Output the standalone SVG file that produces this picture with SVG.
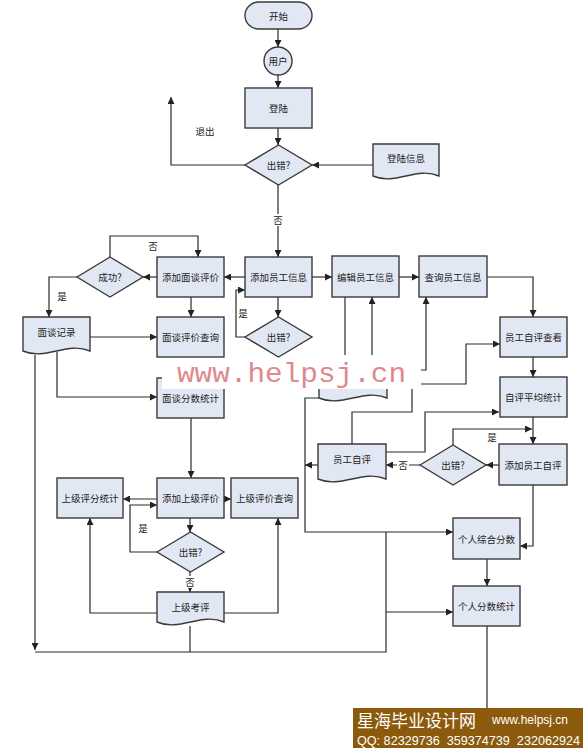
<svg xmlns="http://www.w3.org/2000/svg" width="583" height="748" viewBox="0 0 583 748">
<defs>
<marker id="ar" viewBox="0 0 8 8" refX="8" refY="4" markerWidth="7" markerHeight="7" markerUnits="userSpaceOnUse" orient="auto">
<path d="M0,0 L8,4 L0,8 Z" fill="#222"/>
</marker>
</defs>
<style>
.box{fill:#e1e8f4;stroke:#3a3a3a;stroke-width:1.4}
.t{font-family:"Noto Sans CJK SC","Noto Sans",sans-serif;font-size:9.5px;fill:#222;text-anchor:middle;dominant-baseline:central}
.c{fill:none;stroke:#2a2a2a;stroke-width:1.2}
.a{marker-end:url(#ar)}
.lb{font-family:"Noto Sans CJK SC","Noto Sans",sans-serif;font-size:9.5px;fill:#222;text-anchor:middle;dominant-baseline:central}
</style>
<rect width="583" height="748" fill="#fff"/>
<g id="connectors">
<path class="c a" d="M278,29 V47"/>
<path class="c a" d="M278,75 V88"/>
<path class="c a" d="M278,128 V145"/>
<path class="c a" d="M373,165 H312"/>
<path class="c a" d="M245,165 H171 V97"/>
<path class="c a" d="M278,185 V257"/>
<path class="c a" d="M245,277 H224"/>
<path class="c a" d="M157,277 H143"/>
<path class="c a" d="M110,257 V236 H198 V257"/>
<path class="c a" d="M77,277 H49 V317"/>
<path class="c a" d="M191,297 V317"/>
<path class="c a" d="M90,337 H157"/>
<path class="c a" d="M57,352 V397 H157"/>
<path class="c a" d="M35,355 V650"/>
<path class="c a" d="M278,297 V317"/>
<path class="c a" d="M245,337 H236 V290 H245"/>
<path class="c a" d="M312,277 H332"/>
<path class="c a" d="M399,277 H419"/>
<path class="c a" d="M487,277 H533 V317"/>
<path class="c a" d="M533,357 V377"/>
<path class="c" d="M345,297 V380"/>
<path class="c a" d="M372,380 V297"/>
<path class="c a" d="M387,370 H426 V297"/>
<path class="c a" d="M387,384 H466 V344 H500"/>
<path class="c a" d="M319,398 H305 V532 H453"/>
<path class="c" d="M412,385 V412 H352 V445"/>
<path class="c a" d="M386,452 H425 V412 H499"/>
<path class="c a" d="M533,417 V444"/>
<path class="c a" d="M499,465 H486"/>
<path class="c a" d="M453,445 V429 H532"/>
<path class="c a" d="M420,465 H386"/>
<path class="c a" d="M318,465 H305"/>
<path class="c a" d="M533,485 V546 H520"/>
<path class="c a" d="M487,559 V586"/>
<path class="c" d="M487,626 V748"/>
<path class="c" d="M386,532 V652 H35"/>
<path class="c a" d="M386,612 H453"/>
<path class="c a" d="M191,418 V478"/>
<path class="c a" d="M157,499 H123"/>
<path class="c a" d="M224,499 H231"/>
<path class="c a" d="M190,518 V532"/>
<path class="c a" d="M157,552 H130 V505 H157"/>
<path class="c a" d="M190,572 V592"/>
<path class="c a" d="M157,613 H90 V518"/>
<path class="c a" d="M224,613 H278 V518"/>
<path class="c" d="M190,626 V652"/>
<rect x="272" y="214" width="12" height="12" fill="#fff"/>
<text class="lb" x="278" y="220">否</text>
<text class="lb" x="205" y="131">退出</text>
<text class="lb" x="153" y="246">否</text>
<text class="lb" x="62" y="296">是</text>
<text class="lb" x="243" y="313">是</text>
<text class="lb" x="492" y="437">是</text>
<rect x="397" y="459" width="12" height="12" fill="#fff"/>
<text class="lb" x="403" y="465">否</text>
<text class="lb" x="143" y="528">是</text>
<rect x="184" y="576" width="12" height="12" fill="#fff"/>
<text class="lb" x="190" y="582">否</text>
</g>
<g id="start"><rect class="box" x="245" y="2" width="67" height="27" rx="13.5"/><text class="t" x="278.5" y="15.5">开始</text></g>
<g id="user"><circle class="box" cx="278" cy="61" r="14"/><text class="t" x="278" y="61">用户</text></g>
<g id="login"><rect class="box" x="245" y="88" width="67" height="40"/><text class="t" x="278.5" y="108">登陆</text></g>
<g id="err1"><path class="box" d="M245,165 L278.5,145 L312,165 L278.5,185 Z"/><text class="t" x="278.5" y="165">出错?</text></g>
<g id="logininfo"><path class="box" transform="translate(373,144)" d="M0,0 H66 V32 C43,22 23,42 0,32 Z"/><text class="t" x="406" y="158">登陆信息</text></g>
<g id="addemp"><rect class="box" x="245" y="257" width="67" height="40"/><text class="t" x="278.5" y="277">添加员工信息</text></g>
<g id="addint"><rect class="box" x="157" y="257" width="67" height="40"/><text class="t" x="190.5" y="277">添加面谈评价</text></g>
<g id="succ"><path class="box" d="M77,277 L110,257 L143,277 L110,297 Z"/><text class="t" x="110" y="277">成功?</text></g>
<g id="intrec"><path class="box" transform="translate(23,317)" d="M0,0 H67 V34 C44,24 23,44 0,34 Z"/><text class="t" x="56.5" y="332">面谈记录</text></g>
<g id="intq"><rect class="box" x="157" y="317" width="67" height="40"/><text class="t" x="190.5" y="337">面谈评价查询</text></g>
<g id="err2"><path class="box" d="M245,337 L278.5,317 L312,337 L278.5,357 Z"/><text class="t" x="278.5" y="337">出错?</text></g>
<g id="editemp"><rect class="box" x="332" y="256" width="67" height="41"/><text class="t" x="365.5" y="276.5">编辑员工信息</text></g>
<g id="qemp"><rect class="box" x="419" y="256" width="68" height="41"/><text class="t" x="453" y="276.5">查询员工信息</text></g>
<g id="selfview"><rect class="box" x="500" y="317" width="67" height="40"/><text class="t" x="533.5" y="337">员工自评查看</text></g>
<g id="selfavg"><rect class="box" x="500" y="377" width="67" height="40"/><text class="t" x="533.5" y="397">自评平均统计</text></g>
<g id="empdoc"><path class="box" transform="translate(319,362)" d="M0,0 H68 V36 C45,26 23,46 0,36 Z"/></g>
<g id="intstat"><rect class="box" x="157" y="378" width="67" height="40"/><text class="t" x="190.5" y="398">面谈分数统计</text></g>
<g id="mask"><path d="M162,359 H300 V355 H421 V389 H162 Z" fill="#fff"/>
<text x="177" y="382" font-family="Liberation Mono, monospace" font-size="27" fill="#e0898c" textLength="229" lengthAdjust="spacingAndGlyphs">www.helpsj.cn</text></g>
<g id="selfeval"><path class="box" transform="translate(318,444)" d="M0,0 H68 V35 C45,25 23,45 0,35 Z"/><text class="t" x="352" y="459">员工自评</text></g>
<g id="err3"><path class="box" d="M420,465 L453,445 L486,465 L453,485 Z"/><text class="t" x="453" y="465">出错?</text></g>
<g id="addself"><rect class="box" x="499" y="444" width="68" height="41"/><text class="t" x="533" y="464.5">添加员工自评</text></g>
<g id="total"><rect class="box" x="453" y="518" width="67" height="41"/><text class="t" x="486.5" y="538.5">个人综合分数</text></g>
<g id="stat"><rect class="box" x="453" y="586" width="67" height="40"/><text class="t" x="486.5" y="606">个人分数统计</text></g>
<g id="supstat"><rect class="box" x="57" y="478" width="66" height="40"/><text class="t" x="90" y="498">上级评分统计</text></g>
<g id="addsup"><rect class="box" x="157" y="478" width="67" height="40"/><text class="t" x="190.5" y="498">添加上级评价</text></g>
<g id="supq"><rect class="box" x="231" y="478" width="67" height="40"/><text class="t" x="264.5" y="498">上级评价查询</text></g>
<g id="err4"><path class="box" d="M157,552 L190.5,532 L224,552 L190.5,572 Z"/><text class="t" x="190.5" y="552">出错?</text></g>
<g id="supeval"><path class="box" transform="translate(157,592)" d="M0,0 H67 V30 C44,20 23,40 0,30 Z"/><text class="t" x="190.5" y="607">上级考评</text></g>
<g id="banner">
<rect x="353" y="708" width="230" height="40" fill="#8c5a0c"/>
<text x="357" y="727" font-family="Noto Sans CJK SC, sans-serif" font-size="17" fill="#fff">星海毕业设计网</text>
<text x="492" y="724" font-family="Liberation Sans, sans-serif" font-size="12" fill="#fff">www.helpsj.cn</text>
<text x="357" y="745" font-family="Liberation Sans, sans-serif" font-size="12.5" fill="#fff" textLength="223" lengthAdjust="spacingAndGlyphs" xml:space="preserve">QQ: 82329736  359374739  232062924</text>
</g>
</svg>
